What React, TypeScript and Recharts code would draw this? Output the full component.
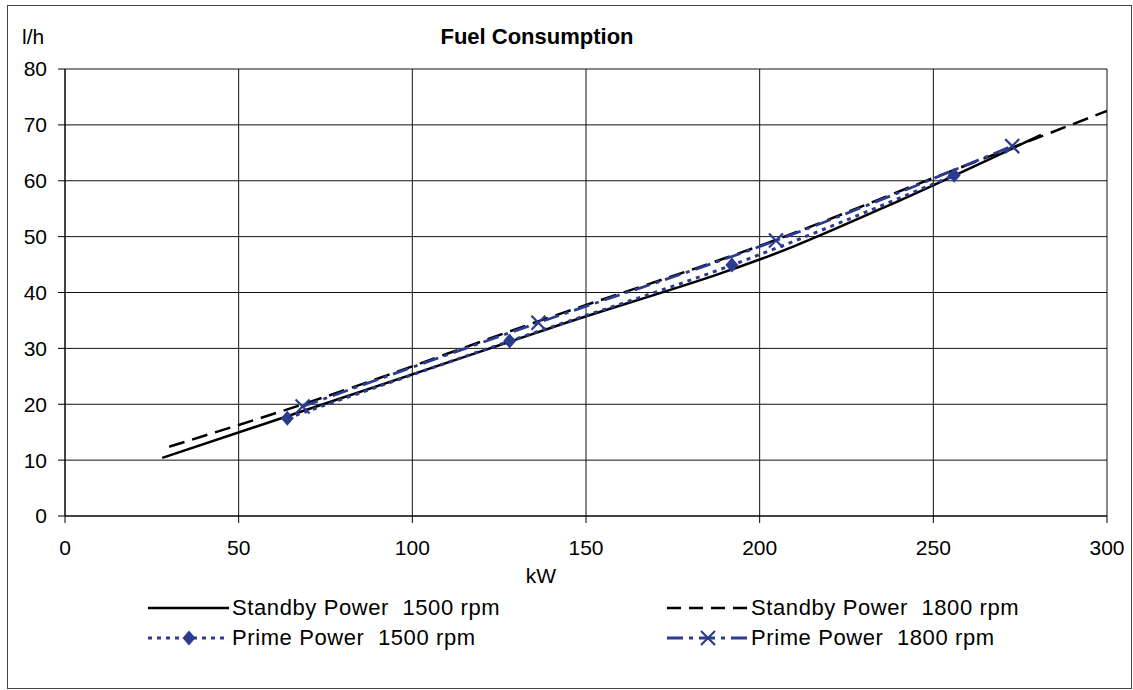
import React from 'react';
import { LineChart, Line, XAxis, YAxis, CartesianGrid } from 'recharts';

const xTicks = [0, 50, 100, 150, 200, 250, 300];
const yTicks = [0, 10, 20, 30, 40, 50, 60, 70, 80];

// values (kW -> l/h)
const standby1500Kw = [28, 70, 140, 210, 235, 281];
const standby1500Lh = [10.4, 19.1, 33.7, 48.3, 55.0, 68.2];
const standby1800Kw = [30, 68, 137, 205, 250, 273, 300];
const standby1800Lh = [12.4, 19.9, 35.0, 49.5, 60.5, 66.0, 72.5];
const prime1500Kw = [64, 128, 192, 256];
const prime1500Lh = [17.5, 31.3, 44.9, 61.0];
const prime1800Kw = [68.4, 136.3, 204.7, 272.7];
const prime1800Lh = [19.6, 34.6, 49.3, 66.2];

const BLUE = '#2b3b8f';
const FONT = '"Liberation Sans", Arial, sans-serif';

const toRows = (kw: number[], lh: number[]) => kw.map((x, i) => ({ kw: x, lh: lh[i] }));

const Diamond = (p: any) => {
  const { cx, cy, index } = p;
  if (cx == null || cy == null) return <g key={index} />;
  return (
    <polygon
      key={index}
      points={`${cx},${cy - 7.5} ${cx + 6.5},${cy} ${cx},${cy + 7.5} ${cx - 6.5},${cy}`}
      fill={BLUE}
    />
  );
};

const Cross = (p: any) => {
  const { cx, cy, index } = p;
  if (cx == null || cy == null) return <g key={index} />;
  const s = 7;
  return (
    <g key={index} stroke={BLUE} strokeWidth={2.2}>
      <line x1={cx - s} y1={cy - s} x2={cx + s} y2={cy + s} />
      <line x1={cx - s} y1={cy + s} x2={cx + s} y2={cy - s} />
    </g>
  );
};

const text: React.CSSProperties = { position: 'absolute', fontFamily: FONT, fontSize: 21, lineHeight: '21px', color: '#000', whiteSpace: 'pre' };
const legendText: React.CSSProperties = { ...text, fontSize: 22, lineHeight: '22px', letterSpacing: 0.6 };

const LegendItem = ({ x, y, label, sample }: { x: number; y: number; label: string; sample: React.ReactNode }) => (
  <>
    <svg style={{ position: 'absolute', left: x, top: y - 10 }} width={84} height={20}>
      {sample}
    </svg>
    <div style={{ ...legendText, left: x + 84, top: y - 11 }}>{label}</div>
  </>
);

export default function App() {
  return (
    <div style={{ position: 'absolute', left: 7, top: 5, width: 1125, height: 684, border: '1px solid #444', boxSizing: 'border-box', background: '#fff' }}>
      <div style={{ ...text, left: 14, top: 20 }}>l/h</div>
      <div style={{ ...text, left: 0, width: 1058, textAlign: 'center', top: 20, fontWeight: 'bold', fontSize: 22 }}>Fuel Consumption</div>
      <div style={{ ...text, left: 0, width: 1066, textAlign: 'center', top: 559 }}>kW</div>

      <LineChart width={1123} height={682} margin={{ top: 63, right: 24, bottom: 142, left: 0 }}>
        <CartesianGrid stroke="#111" strokeWidth={1} />
        <XAxis
          type="number"
          dataKey="kw"
          domain={[0, 300]}
          ticks={xTicks}
          allowDataOverflow
          height={30}
          tickSize={7}
          tickMargin={17}
          stroke="#000"
          tick={{ fill: '#000', fontSize: 21, fontFamily: FONT }}
        />
        <YAxis
          type="number"
          domain={[0, 80]}
          ticks={yTicks}
          width={57}
          tickSize={7}
          tickMargin={11}
          stroke="#000"
          tick={{ fill: '#000', fontSize: 21, fontFamily: FONT }}
        />
        <Line
          data={toRows(standby1500Kw, standby1500Lh)}
          dataKey="lh"
          type="monotone"
          stroke="#000"
          strokeWidth={2.5}
          dot={false}
          isAnimationActive={false}
        />
        <Line
          data={toRows(standby1800Kw, standby1800Lh)}
          dataKey="lh"
          type="monotone"
          stroke="#000"
          strokeWidth={2.5}
          strokeDasharray="16 8"
          dot={false}
          isAnimationActive={false}
        />
        <Line
          data={toRows(prime1500Kw, prime1500Lh)}
          dataKey="lh"
          type="monotone"
          stroke={BLUE}
          strokeWidth={3}
          strokeDasharray="4 5"
          dot={Diamond}
          isAnimationActive={false}
        />
        <Line
          data={toRows(prime1800Kw, prime1800Lh)}
          dataKey="lh"
          type="monotone"
          stroke={BLUE}
          strokeWidth={2.8}
          strokeDasharray="16 6 4 6"
          dot={Cross}
          isAnimationActive={false}
        />
      </LineChart>

      <LegendItem
        x={140}
        y={602}
        label="Standby Power  1500 rpm"
        sample={<line x1={0} y1={10} x2={81} y2={10} stroke="#000" strokeWidth={2.5} />}
      />
      <LegendItem
        x={659}
        y={602}
        label="Standby Power  1800 rpm"
        sample={<line x1={0} y1={10} x2={81} y2={10} stroke="#000" strokeWidth={2.5} strokeDasharray="14 8" />}
      />
      <LegendItem
        x={140}
        y={632}
        label="Prime Power  1500 rpm"
        sample={
          <>
            <line x1={0} y1={10} x2={81} y2={10} stroke={BLUE} strokeWidth={3} strokeDasharray="4 5" />
            <polygon points="41,2.5 47.5,10 41,17.5 34.5,10" fill={BLUE} />
          </>
        }
      />
      <LegendItem
        x={659}
        y={632}
        label="Prime Power  1800 rpm"
        sample={
          <>
            <line x1={0} y1={10} x2={81} y2={10} stroke={BLUE} strokeWidth={2.8} strokeDasharray="16 6 4 6" />
            <line x1={34} y1={3} x2={48} y2={17} stroke={BLUE} strokeWidth={2.2} />
            <line x1={34} y1={17} x2={48} y2={3} stroke={BLUE} strokeWidth={2.2} />
          </>
        }
      />
    </div>
  );
}
